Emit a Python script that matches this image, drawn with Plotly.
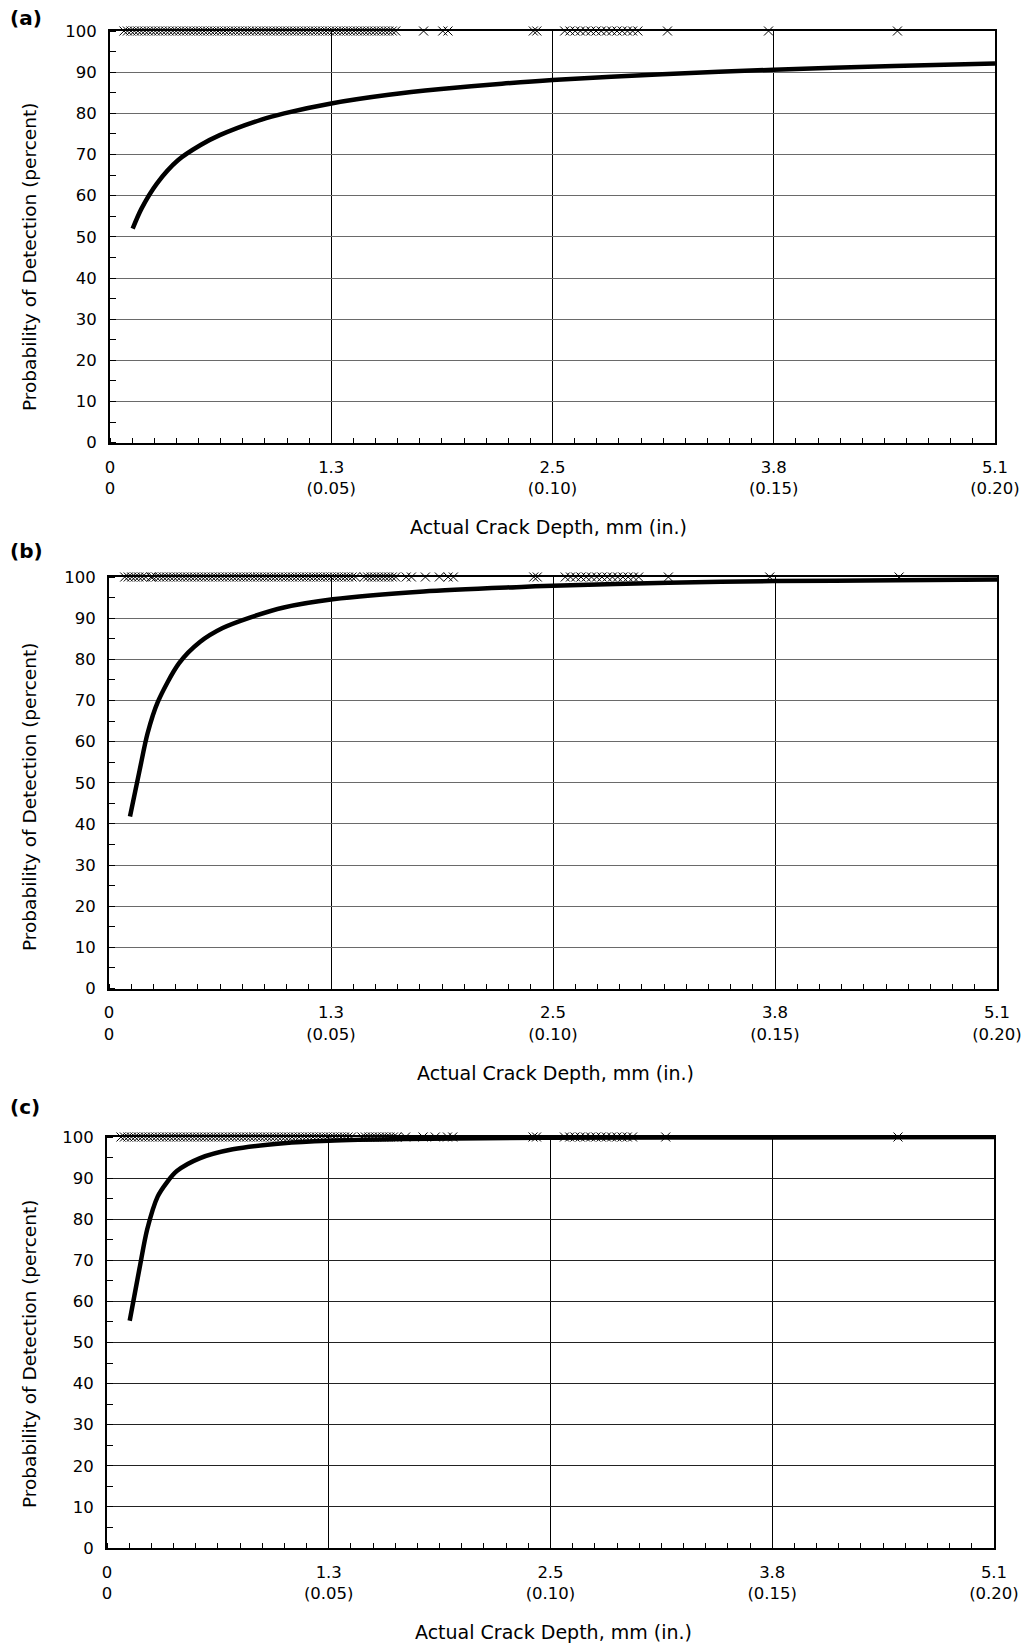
import plotly.graph_objects as go

W, H = 1023, 1644

# ---------------- data ----------------
tick_mm = [0, 1.27, 2.54, 3.81, 5.08]
tick_text = ["0<br>0", "1.3<br>(0.05)", "2.5<br>(0.10)", "3.8<br>(0.15)", "5.1<br>(0.20)"]
y_ticks = [0, 10, 20, 30, 40, 50, 60, 70, 80, 90, 100]

# panel (a)
a_depth = [0.13, 0.18, 0.27, 0.39, 0.52, 0.63, 0.87, 1.00, 1.27, 1.60, 1.90, 2.25, 2.54, 3.17, 3.81, 4.50, 5.08]
a_pod = [52.0, 56.8, 63.0, 68.6, 72.3, 74.7, 78.5, 80.0, 82.4, 84.5, 85.9, 87.2, 88.1, 89.5, 90.6, 91.5, 92.1]
a_hits = [0.08, 0.10, 0.12, 0.14, 0.16, 0.18, 0.20, 0.22, 0.24, 0.26, 0.28, 0.30, 0.32, 0.34, 0.36,
          0.38, 0.40, 0.42, 0.44, 0.46, 0.48, 0.50, 0.52, 0.54, 0.56, 0.58, 0.60, 0.62, 0.64, 0.66,
          0.68, 0.70, 0.72, 0.74, 0.76, 0.78, 0.80, 0.82, 0.84, 0.86, 0.88, 0.90, 0.92, 0.94, 0.96,
          0.98, 1.00, 1.02, 1.04, 1.06, 1.08, 1.10, 1.12, 1.14, 1.16, 1.18, 1.20, 1.22, 1.24, 1.26,
          1.28, 1.30, 1.32, 1.34, 1.36, 1.38, 1.40, 1.42, 1.44, 1.46, 1.48, 1.50, 1.52, 1.54, 1.56,
          1.58, 1.60, 1.62, 1.64, 1.80, 1.91, 1.94, 2.43, 2.45, 2.61, 2.64, 2.67, 2.70, 2.73, 2.76,
          2.79, 2.82, 2.85, 2.88, 2.91, 2.94, 2.97, 3.00, 3.03, 3.20, 3.78, 4.52]

# panel (b)
b_depth = [0.12, 0.175, 0.22, 0.28, 0.40, 0.52, 0.65, 0.81, 1.00, 1.28, 1.80, 2.36, 2.54, 3.20, 3.80, 4.50, 5.08]
b_pod = [41.8, 53.0, 61.9, 69.7, 79.0, 84.2, 87.6, 90.2, 92.6, 94.6, 96.5, 97.6, 97.9, 98.6, 99.0, 99.2, 99.4]
b_hits = [0.09, 0.11, 0.13, 0.15, 0.17, 0.19, 0.21, 0.24, 0.25, 0.27, 0.29, 0.31, 0.33, 0.35, 0.37,
          0.39, 0.41, 0.43, 0.45, 0.47, 0.49, 0.51, 0.53, 0.55, 0.57, 0.59, 0.61, 0.63, 0.65, 0.67,
          0.69, 0.71, 0.73, 0.75, 0.77, 0.79, 0.81, 0.83, 0.85, 0.87, 0.89, 0.91, 0.93, 0.95, 0.97,
          0.99, 1.01, 1.03, 1.05, 1.07, 1.09, 1.11, 1.13, 1.15, 1.17, 1.19, 1.21, 1.23, 1.25, 1.27,
          1.29, 1.31, 1.33, 1.35, 1.37, 1.39, 1.41, 1.46, 1.48, 1.50, 1.52, 1.54, 1.56, 1.58, 1.60,
          1.62, 1.64, 1.70, 1.73, 1.81, 1.89, 1.94, 1.97, 2.43, 2.45, 2.61, 2.64, 2.67, 2.70, 2.73,
          2.76, 2.79, 2.82, 2.85, 2.88, 2.91, 2.94, 2.97, 3.00, 3.03, 3.20, 3.78, 4.52]

# panel (c)
c_depth = [0.13, 0.186, 0.23, 0.29, 0.34, 0.40, 0.53, 0.72, 1.01, 1.27, 1.70, 2.50, 3.80, 5.08]
c_pod = [55.3, 68.0, 77.5, 85.5, 88.8, 91.7, 94.8, 97.0, 98.5, 99.1, 99.5, 99.8, 99.9, 100.0]
c_hits = [0.08, 0.10, 0.12, 0.14, 0.16, 0.18, 0.20, 0.22, 0.24, 0.26, 0.28, 0.30, 0.32, 0.34, 0.36,
          0.38, 0.40, 0.42, 0.44, 0.46, 0.48, 0.50, 0.52, 0.54, 0.56, 0.58, 0.60, 0.62, 0.64, 0.66,
          0.68, 0.70, 0.72, 0.74, 0.76, 0.78, 0.80, 0.82, 0.84, 0.86, 0.88, 0.90, 0.92, 0.94, 0.96,
          0.98, 1.00, 1.02, 1.04, 1.06, 1.08, 1.10, 1.12, 1.14, 1.16, 1.18, 1.20, 1.22, 1.24, 1.26,
          1.28, 1.30, 1.32, 1.34, 1.36, 1.38, 1.40, 1.46, 1.48, 1.50, 1.52, 1.54, 1.56, 1.58, 1.60,
          1.62, 1.64, 1.66, 1.71, 1.81, 1.88, 1.95, 1.98, 2.44, 2.46, 2.62, 2.65, 2.68, 2.71, 2.74,
          2.77, 2.80, 2.83, 2.86, 2.89, 2.92, 2.95, 2.98, 3.01, 3.20, 4.53]

panels = [
    ("(a)", a_depth, a_pod, a_hits),
    ("(b)", b_depth, b_pod, b_hits),
    ("(c)", c_depth, c_pod, c_hits),
]

# ---------------- layout geometry (pixels) ----------------
geo = [
    dict(x0=110, x1=995, ytop=31, ybot=442.7, lab_y=18, ytitle_c=257, xtitle_x=548, xtitle_y=527, grid="#6a6a6a"),
    dict(x0=109, x1=997, ytop=577, ybot=988.5, lab_y=551, ytitle_c=797, xtitle_x=555, xtitle_y=1073, grid="#6a6a6a"),
    dict(x0=107, x1=994, ytop=1137, ybot=1548, lab_y=1107, ytitle_c=1354, xtitle_x=553, xtitle_y=1632, grid="#222222"),
]

FONT = "DejaVu Sans"

def px(x):
    return x / W

def py(y):
    return 1 - y / H

fig = go.Figure()
annotations = []

for i, ((label, depth, pod, hits), g) in enumerate(zip(panels, geo)):
    n = "" if i == 0 else str(i + 1)
    xa = "x" + n
    ya = "y" + n
    fig.add_trace(go.Scatter(
        x=depth, y=pod, mode="lines", xaxis=xa, yaxis=ya,
        line=dict(color="black", width=4.5, shape="spline", smoothing=0.8),
        showlegend=False, hoverinfo="x+y",
    ))
    fig.add_trace(go.Scatter(
        x=hits, y=[100] * len(hits), mode="markers", xaxis=xa, yaxis=ya,
        marker=dict(symbol="x-thin", size=9, line=dict(color="black", width=1.0)),
        cliponaxis=False, showlegend=False, hoverinfo="x",
    ))

    fig.layout["xaxis" + n] = dict(
        domain=[px(g["x0"]), px(g["x1"])], anchor=ya, range=[0, 5.08],
        tickmode="array", tickvals=tick_mm, ticktext=tick_text,
        ticks="", showgrid=True, gridcolor="black", gridwidth=1.2,
        showline=True, linecolor="black", linewidth=2, mirror=True,
        zeroline=False, automargin=False,
        tickfont=dict(family=FONT, size=16.5, color="black"),
        ticklabelstandoff=8,
        minor=dict(ticks="inside", ticklen=5, tickcolor="black", tickwidth=1,
                   tick0=0, dtick=0.127, showgrid=False),
    )
    fig.layout["yaxis" + n] = dict(
        domain=[py(g["ybot"]), py(g["ytop"])], anchor=xa, range=[0, 100],
        tickmode="array", tickvals=y_ticks, ticks="",
        showgrid=True, gridcolor=g["grid"], gridwidth=1.2,
        showline=True, linecolor="black", linewidth=2, mirror=True,
        zeroline=False, automargin=False,
        tickfont=dict(family=FONT, size=16.5, color="black"),
        ticklabelstandoff=8,
        minor=dict(ticks="inside", ticklen=6, tickcolor="black", tickwidth=1,
                   tick0=0, dtick=5, showgrid=False),
    )

    annotations.append(dict(
        text=label, x=px(8), y=py(g["lab_y"]), xref="paper", yref="paper",
        xanchor="left", yanchor="middle", showarrow=False,
        font=dict(family=FONT, size=20, color="black", weight="bold"),
    ))
    annotations.append(dict(
        text="Probability of Detection (percent)", x=px(29), y=py(g["ytitle_c"]),
        xref="paper", yref="paper", xanchor="center", yanchor="middle",
        textangle=-90, showarrow=False,
        font=dict(family=FONT, size=18.5, color="black"),
    ))
    annotations.append(dict(
        text="Actual Crack Depth, mm (in.)", x=px(g["xtitle_x"]), y=py(g["xtitle_y"]),
        xref="paper", yref="paper", xanchor="center", yanchor="middle",
        showarrow=False, font=dict(family=FONT, size=19, color="black"),
    ))

fig.update_layout(
    width=W, height=H,
    margin=dict(l=0, r=0, t=0, b=0),
    paper_bgcolor="white", plot_bgcolor="white",
    annotations=annotations,
    font=dict(family=FONT, color="black"),
)

fig.write_html(
    "out.html",
    config={"displayModeBar": False},
    post_script="document.body.style.margin='0';document.body.style.overflow='hidden';",
)
